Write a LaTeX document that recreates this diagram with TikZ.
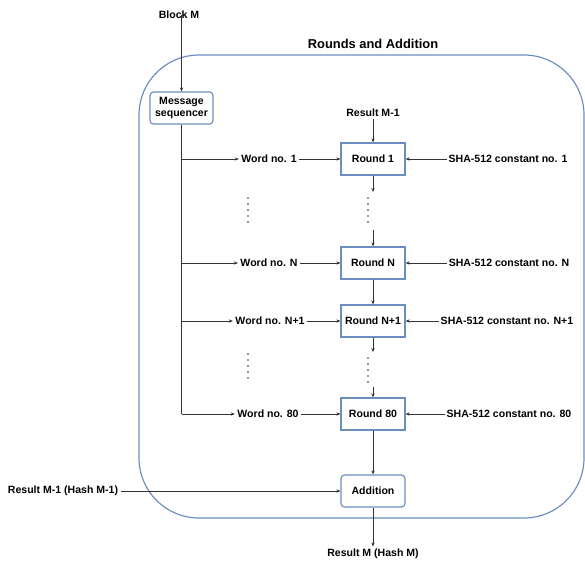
\documentclass[tikz,border=0pt]{standalone}
\usepackage{fontspec}
\setmainfont{Liberation Sans}
\usetikzlibrary{arrows.meta, positioning}
\definecolor{rahmen}{HTML}{6C8EBF}
\definecolor{linie}{HTML}{333333}

\begin{document}
\begin{tikzpicture}[x=0.03cm, y=-0.03cm,
		>={Stealth[length=3.5pt,width=2.8pt]},
		txt/.style={font=\bfseries\fontsize{9}{11}\selectfont, inner sep=2pt},
		kasten/.style={txt, draw=rahmen, line width=1pt, fill=white, minimum width=54.6pt, minimum height=27.3pt, align=center},
		rkasten/.style={kasten, rounded corners=3pt},
		pfeil/.style={->, draw=linie, line width=0.7pt}]
			\useasboundingbox (0,0) rectangle (585,561);
			
			% Rahmen
			\draw[rahmen, line width=1pt, rounded corners=1.8cm] (139,55) rectangle (584,518);
			\node[txt, font=\bfseries\fontsize{11}{13}\selectfont] (titel) at (373,44) {Rounds and Addition};
			
			% Eingang
			\node[txt] (blockM) at (179,15) {Block M};
			\node[rkasten, minimum width=53.8pt, inner sep=1pt] (seq) at (181.5,108) {Message\\sequencer};
			\draw[pfeil] (blockM -| seq) -- (seq);
			
			% Runden
			\node[txt] (resM1) at (373,113) {Result M-1};
			\node[kasten] (r1) at (373,159) {Round 1};
			\node[kasten] (rN) at (373,263) {Round N};
			\node[kasten] (rN1) at (373,321) {Round N+1};
			\node[kasten] (r80) at (373,414) {Round 80};
			\node[rkasten] (add) at (373,491) {Addition};
			
			% Woerter und Konstanten
			\node[txt] (w1) at (269,159) {Word no. 1};
			\node[txt] (wN) at (269,263) {Word no. N};
			\node[txt] (wN1) at (270,321) {Word no. N+1};
			\node[txt] (w80) at (268,414) {Word no. 80};
			\node[txt, inner sep=1pt] (k1) at (508,159) {SHA-512 constant no. 1};
			\node[txt, inner sep=1pt] (kN) at (509,263) {SHA-512 constant no. N};
			\node[txt, inner sep=1pt] (kN1) at (507,321) {SHA-512 constant no. N+1};
			\node[txt, inner sep=1pt] (k80) at (509,414) {SHA-512 constant no. 80};
			
			% Bus
			\coordinate (b1) at (181.5,159);
			\coordinate (bN) at (181.5,263);
			\coordinate (bN1) at (181.5,321);
			\coordinate (b80) at (181.5,414);
			\draw[linie, line width=0.7pt] (seq) -- (b80);
			
			\foreach \i in {1,N,N1,80} {
				\draw[pfeil] (b\i) -- (w\i);
				\draw[pfeil] (w\i) -- (r\i);
				\draw[pfeil] (k\i) -- (r\i);
			}
			
			% Pfeile zwischen den Runden
			\coordinate (d1a) at (373,192);
			\coordinate (d1b) at (373,230);
			\coordinate (d2a) at (373,352);
			\coordinate (d2b) at (373,387);
			\draw[pfeil] (resM1) -- (r1);
			\draw[pfeil] (r1) -- (d1a);
			\draw[pfeil] (d1b) -- (rN);
			\draw[pfeil] (rN) -- (rN1);
			\draw[pfeil] (rN1) -- (d2a);
			\draw[pfeil] (d2b) -- (r80);
			\draw[pfeil] (r80) -- (add);
			
			% Punkte
			\foreach \y in {198,204,...,222} {
				\fill[linie] (368,\y) circle (0.75pt);
				\fill[linie] (248,\y) circle (0.75pt);
			}
			\foreach \y in {358,364,...,382} {
				\fill[linie] (368,\y) circle (0.75pt);
				\fill[linie] (248,\y-4) circle (0.75pt);
			}
			
			% Ausgang
			\node[txt] (resHM1) at (63,491) {Result M-1 (Hash M-1)};
			\node[txt] (resM) at (373,554) {Result M (Hash M)};
			\draw[pfeil] (resHM1) -- (add);
			\draw[pfeil] (add) -- (resM);
		\end{tikzpicture}
\end{document}
